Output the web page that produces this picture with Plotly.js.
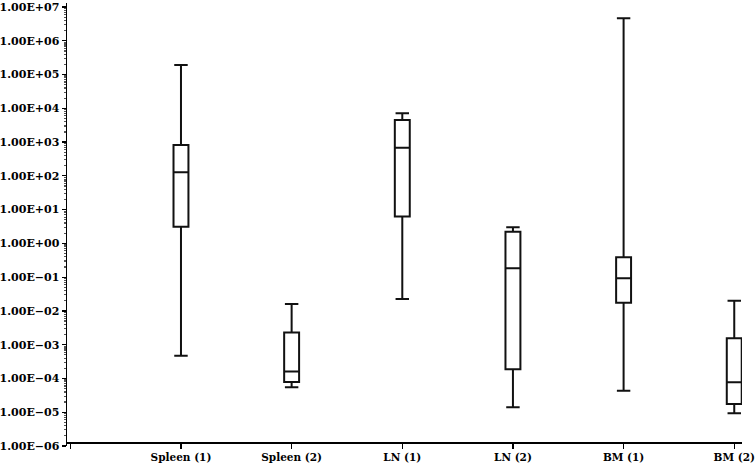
<!DOCTYPE html>
<html>
<head>
<meta charset="utf-8">
<script src="https://cdn.plot.ly/plotly-3.0.1.min.js"></script>
<style>html,body{margin:0;padding:0;background:#fff;}#chart{width:755px;height:465px;}</style>
</head>
<body>
<div id="chart"></div>
<script>
const categories = ['Spleen (1)', 'Spleen (2)', 'LN (1)', 'LN (2)', 'BM (1)', 'BM (2)'];
const lowerWhisker = [4.7e-4, 5.5e-5, 2.25e-2, 1.4e-5, 4.35e-5, 9.3e-6];
const q1Values     = [3.1, 7.9e-5, 6.2, 1.86e-4, 1.75e-2, 1.75e-5];
const medians      = [127, 1.6e-4, 682, 0.182, 9.2e-2, 7.7e-5];
const q3Values     = [820, 2.3e-3, 4.5e3, 2.2, 0.386, 1.55e-3];
const upperWhisker = [1.9e5, 1.6e-2, 7.1e3, 3.0, 4.6e6, 2.0e-2];
const yTickExponents = [7, 6, 5, 4, 3, 2, 1, 0, -1, -2, -3, -4, -5, -6];

const yTickVals = yTickExponents.map(e => Math.pow(10, e));
const yTickText = yTickExponents.map(e => '1.00E' + (e >= 0 ? '+' : '\u2212') + String(Math.abs(e)).padStart(2, '0'));
const xPos = categories.map((c, i) => i + 1);

const font = {family: 'DejaVu Serif', size: 11, color: '#000', weight: 'bold'};
const xFont = {family: 'DejaVu Serif', size: 10.5, color: '#000', weight: 'bold'};

const trace = {
  type: 'box',
  x: xPos,
  q1: q1Values,
  median: medians,
  q3: q3Values,
  lowerfence: lowerWhisker,
  upperfence: upperWhisker,
  boxpoints: false,
  line: {color: '#111', width: 2},
  fillcolor: 'rgba(255,255,255,0)',
  width: 0.135,
  whiskerwidth: 0.9,
  hoverinfo: 'skip'
};

const layout = {
  width: 755, height: 465,
  margin: {l: 67, r: 13, t: 3, b: 19},
  showlegend: false,
  paper_bgcolor: '#fff', plot_bgcolor: '#fff',
  font: font,
  xaxis: {
    range: [-0.03, 6.07],
    tickvals: [0].concat(xPos),
    ticktext: [''].concat(categories),
    ticks: 'outside', ticklen: 5, tickwidth: 1.5, tickcolor: '#000',
    ticklabeloverflow: 'allow',
    automargin: false,
    showline: true, linecolor: '#000', linewidth: 1.5,
    showgrid: false, zeroline: false,
    anchor: 'free', position: 0.009,
    tickfont: xFont
  },
  yaxis: {
    type: 'log',
    range: [-6, 7.118],
    tickvals: yTickVals,
    ticktext: yTickText,
    ticks: 'outside', ticklen: 4, tickwidth: 1.2, tickcolor: '#000',
    minor: {ticks: 'outside', ticklen: 2, tickcolor: '#555', dtick: 'D1', showgrid: false},
    showline: true, linecolor: '#000', linewidth: 1.5,
    showgrid: false, zeroline: false,
    tickfont: font
  }
};

Plotly.newPlot('chart', [trace], layout, {displayModeBar: false, staticPlot: true});
</script>
</body>
</html>
